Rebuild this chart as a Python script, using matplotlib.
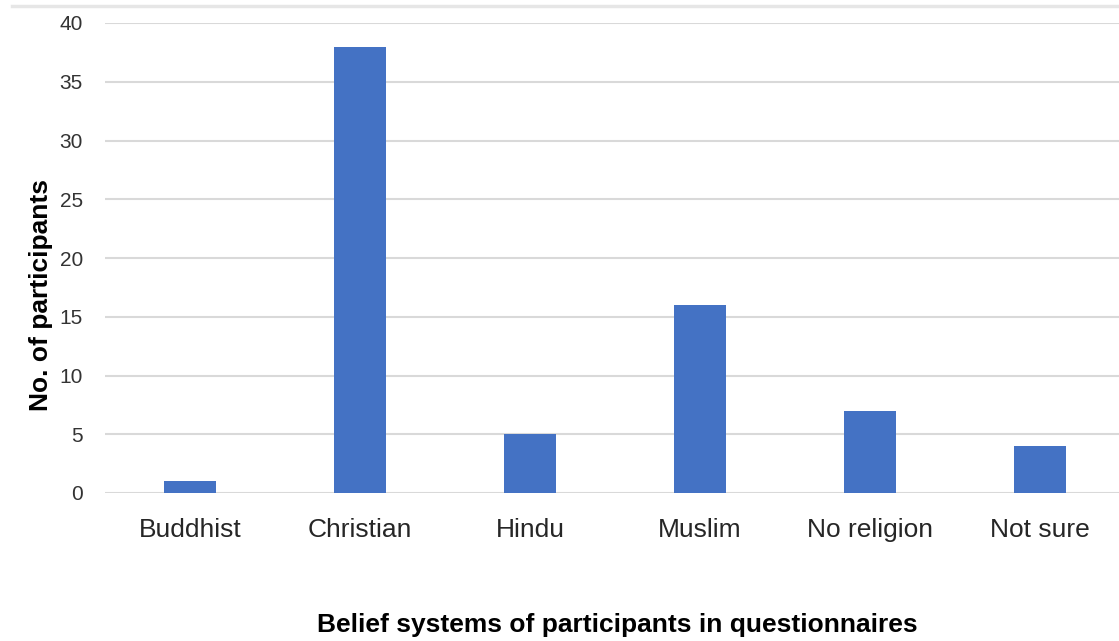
import matplotlib.pyplot as plt
from matplotlib.lines import Line2D

categories = ['Buddhist', 'Christian', 'Hindu', 'Muslim', 'No religion', 'Not sure']
participants = [1, 38, 5, 16, 7, 4]
y_ticks = [0, 5, 10, 15, 20, 25, 30, 35, 40]

plt.rcParams['font.family'] = ['Liberation Sans', 'DejaVu Sans']

fig = plt.figure(figsize=(11.19, 6.41), dpi=100)
ax = fig.add_axes([105 / 1119, 1 - 493 / 641, 1014 / 1119, 470 / 641])

x = range(len(categories))
ax.bar(x, participants, width=0.31, color='#4472C4', zorder=3)

ax.set_xlim(-0.5, 5.465)
ax.set_ylim(0, 40)
ax.set_yticks(y_ticks)
ax.set_xticks(list(x))
ax.set_xticklabels(categories)
ax.grid(axis='y', color='#d9d9d9', linewidth=1.5, zorder=0)
for s in ax.spines.values():
    s.set_visible(False)
ax.tick_params(axis='both', length=0)
ax.tick_params(axis='y', labelsize=15, labelcolor='#333333', pad=16)
ax.tick_params(axis='x', labelsize=19, labelcolor='#262626', pad=18)

ax.set_ylabel('No. of participants', fontsize=19, fontweight='bold')
ax.yaxis.set_label_coords(-52 / 1014, 198 / 470)
fig.text(617 / 1119, 1 - 625 / 641, 'Belief systems of participants in questionnaires',
         fontsize=19, fontweight='bold', ha='center', va='center')

# faint page line at top
fig.add_artist(Line2D([12 / 1119, 1], [1 - 6 / 641, 1 - 6 / 641], color='#e6e6e6', linewidth=2.5))

fig.savefig('out.png', dpi=100)
